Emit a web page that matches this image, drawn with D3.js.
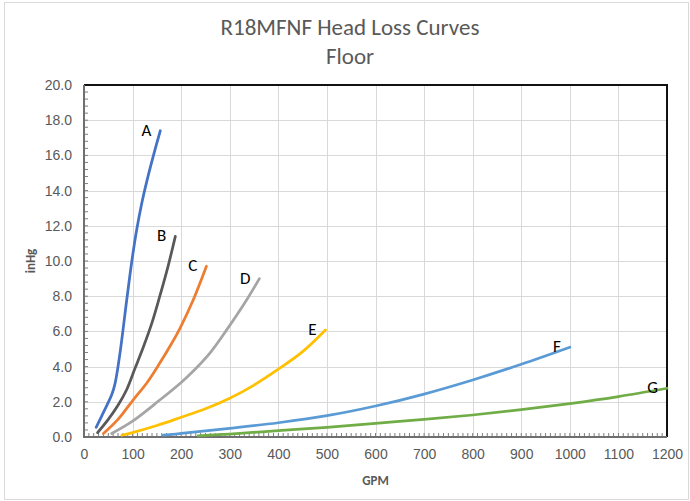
<!DOCTYPE html>
<html>
<head>
<meta charset="utf-8">
<script src="https://cdn.jsdelivr.net/npm/d3@7"></script>
<style>
  body { margin: 0; background: #fff; }
  svg { font-family: Carlito, Lato, "Open Sans", sans-serif; }
</style>
</head>
<body>
<svg id="chart" width="690" height="501"></svg>
<script>
// curve data (GPM, inHg)
const gpmA = [25, 40, 57, 64, 74, 88, 98, 108, 119, 129, 143, 157]
const hgA = [0.55, 1.4, 2.4, 3.05, 4.75, 7.8, 9.9, 11.7, 13.3, 14.5, 16.0, 17.4]
const gpmB = [28, 50, 70, 88, 105, 122, 140, 156, 173, 188]
const hgB = [0.25, 1.0, 1.8, 2.7, 3.9, 5.1, 6.5, 8.0, 9.7, 11.4]
const gpmC = [40, 70, 101, 130, 156, 180, 197, 225, 252]
const hgC = [0.2, 1.0, 2.1, 3.1, 4.2, 5.3, 6.15, 7.8, 9.7]
const gpmD = [57, 100, 156, 200, 225, 260, 294, 335, 361]
const hgD = [0.2, 0.9, 2.1, 3.1, 3.75, 4.8, 6.1, 7.8, 9.0]
const gpmE = [78, 100, 150, 200, 250, 300, 350, 400, 450, 497]
const hgE = [0.1, 0.25, 0.65, 1.12, 1.6, 2.2, 2.95, 3.85, 4.85, 6.08]
const gpmF = [163, 200, 300, 400, 500, 600, 700, 800, 900, 1000]
const hgF = [0.1, 0.2, 0.49, 0.81, 1.21, 1.76, 2.44, 3.24, 4.13, 5.1]
const gpmG = [235, 300, 400, 500, 600, 700, 800, 900, 1000, 1100, 1200]
const hgG = [0.07, 0.17, 0.36, 0.55, 0.78, 1.0, 1.25, 1.55, 1.9, 2.3, 2.77]

const names = ['A', 'B', 'C', 'D', 'E', 'F', 'G']
const colors = ['#4472C4', '#595959', '#ED7D31', '#A5A5A5', '#FFC000', '#5B9BD5', '#70AD47']
const xTicks = [0, 100, 200, 300, 400, 500, 600, 700, 800, 900, 1000, 1100, 1200]
const yTicks = [0, 2, 4, 6, 8, 10, 12, 14, 16, 18, 20]
const titleLines = ['R18MFNF Head Loss Curves', 'Floor']

const series = [
  [gpmA, hgA], [gpmB, hgB], [gpmC, hgC], [gpmD, hgD],
  [gpmE, hgE], [gpmF, hgF], [gpmG, hgG]
].map(([g, h], i) => ({
  name: names[i],
  color: colors[i],
  pts: g.map((v, j) => [v, h[j]])
}))

const svg = d3.select('#chart')
const plotLeft = 84
const plotRight = 667
const plotTop = 85
const plotBottom = 437

const x = d3.scaleLinear().domain([0, 1200]).range([plotLeft, plotRight])
const y = d3.scaleLinear().domain([0, 20]).range([plotBottom, plotTop])

// outer chart frame
svg.append('rect')
  .attr('x', 4.5).attr('y', 2.5).attr('width', 684).attr('height', 497)
  .attr('fill', 'none').attr('stroke', '#d9d9d9')

// title
svg.append('g').selectAll('text')
  .data(titleLines)
  .join('text')
  .attr('x', 350)
  .attr('y', (d, i) => 35 + i * 29)
  .attr('text-anchor', 'middle')
  .attr('font-size', 23)
  .attr('fill', '#595959')
  .text(d => d)

// gridlines
const grid = svg.append('g').attr('stroke', '#d9d9d9').attr('stroke-width', 1)
grid.selectAll('.gx').data(xTicks.slice(1, -1)).join('line')
  .attr('x1', d => Math.round(x(d)) + 0.5).attr('x2', d => Math.round(x(d)) + 0.5)
  .attr('y1', plotTop).attr('y2', plotBottom)
grid.selectAll('.gy').data(yTicks.slice(1, -1)).join('line')
  .attr('y1', d => Math.round(y(d)) + 0.5).attr('y2', d => Math.round(y(d)) + 0.5)
  .attr('x1', plotLeft).attr('x2', plotRight)

// minor ticks, pointing inside the plot
const minorX = d3.range(10, 1200, 10)
const minorY = d3.range(0.4, 20, 0.4)
svg.append('g').attr('stroke', '#7f7f7f')
  .selectAll('line').data(minorX).join('line')
  .attr('x1', d => x(d)).attr('x2', d => x(d))
  .attr('y1', plotBottom).attr('y2', plotBottom - 4)
svg.append('g').attr('stroke', '#7f7f7f')
  .selectAll('line').data(minorY).join('line')
  .attr('y1', d => y(d)).attr('y2', d => y(d))
  .attr('x1', plotLeft).attr('x2', plotLeft + 4)

// plot border: top and right in black, axes in gray
svg.append('path')
  .attr('d', `M${plotLeft},${plotTop}H${plotRight}V${plotBottom}`)
  .attr('fill', 'none').attr('stroke', '#111').attr('stroke-width', 2)
svg.append('path')
  .attr('d', `M${plotLeft},${plotTop}V${plotBottom}H${plotRight}`)
  .attr('fill', 'none').attr('stroke', '#6f6f6f').attr('stroke-width', 2)

// axis tick labels
const xAxis = d3.axisBottom(x).tickValues(xTicks).tickSize(0).tickPadding(12)
  .tickFormat(d3.format('d'))
svg.append('g').attr('transform', `translate(0,${plotBottom})`).call(xAxis)
  .call(g => g.select('.domain').remove())
  .selectAll('text').attr('font-size', 14).attr('fill', '#595959')
  .attr('font-family', null)

const yAxis = d3.axisLeft(y).tickValues(yTicks).tickSize(0).tickPadding(12)
  .tickFormat(d3.format('.1f'))
svg.append('g').attr('transform', `translate(${plotLeft},0)`).call(yAxis)
  .call(g => g.select('.domain').remove())
  .selectAll('text').attr('font-size', 14).attr('fill', '#595959')
  .attr('font-family', null)

// axis titles
svg.append('text')
  .attr('x', (plotLeft + plotRight) / 2).attr('y', 485)
  .attr('text-anchor', 'middle')
  .attr('font-size', 13).attr('font-weight', 'bold').attr('fill', '#595959')
  .text('GPM')
svg.append('text')
  .attr('transform', `translate(35,${(plotTop + plotBottom) / 2}) rotate(-90)`)
  .attr('text-anchor', 'middle')
  .attr('font-size', 13).attr('font-weight', 'bold').attr('fill', '#595959')
  .text('inHg')

// curves
const line = d3.line()
  .x(d => x(d[0]))
  .y(d => y(d[1]))
  .curve(d3.curveCatmullRom.alpha(0.5))

svg.append('g').selectAll('path')
  .data(series)
  .join('path')
  .attr('d', d => line(d.pts))
  .attr('fill', 'none')
  .attr('stroke', d => d.color)
  .attr('stroke-width', 2.75)
  .attr('stroke-linecap', 'round')

// curve labels next to the last point
svg.append('g').selectAll('text')
  .data(series)
  .join('text')
  .attr('x', d => x(d.pts[d.pts.length - 1][0]) - 9)
  .attr('y', d => y(d.pts[d.pts.length - 1][1]) + 5)
  .attr('text-anchor', 'end')
  .attr('font-size', 17)
  .attr('fill', '#000')
  .text(d => d.name)
</script>
</body>
</html>
